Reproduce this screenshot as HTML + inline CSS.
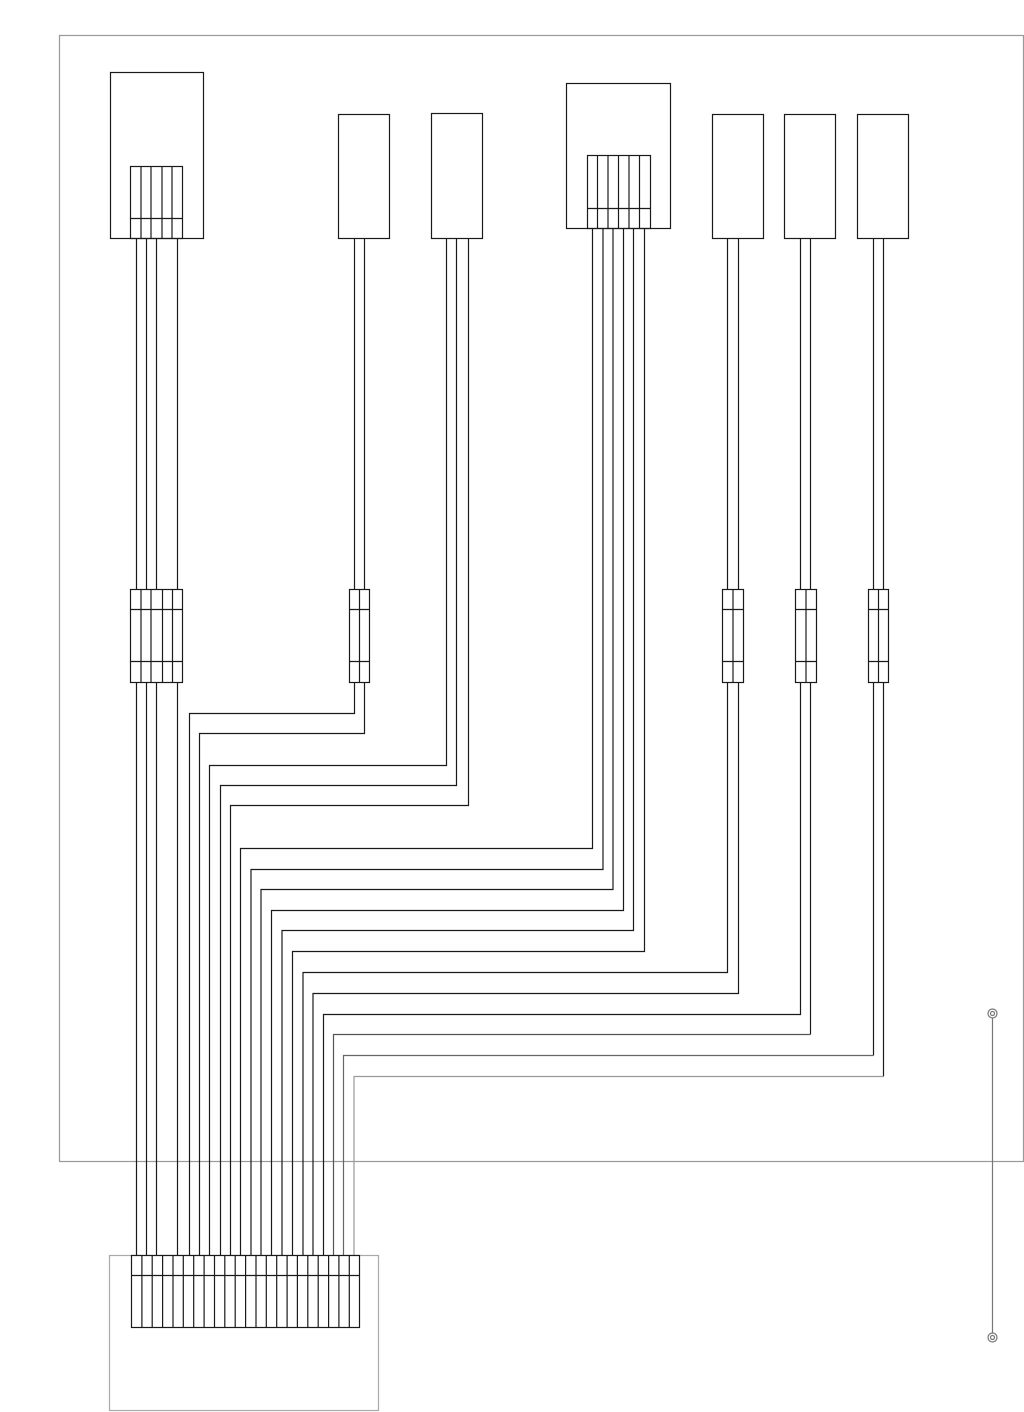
<!DOCTYPE html>
<html><head><meta charset="utf-8"><style>html,body{margin:0;padding:0;background:#fff}svg{display:block}</style></head>
<body>
<svg width="1024" height="1412" viewBox="0 0 1024 1412" xmlns="http://www.w3.org/2000/svg" fill="none" stroke-width="1.2">
<rect x="59.5" y="35.5" width="964" height="1126" stroke="#999"/>
<rect x="109.5" y="1255.5" width="269" height="155" stroke="#aaa"/>
<g stroke="#1a1a1a">
<rect x="110.5" y="72.5" width="93" height="166"/>
<rect x="130.5" y="166.5" width="52" height="72"/>
<line x1="130" y1="218.5" x2="183" y2="218.5"/>
<path d="M141 166v72M151 166v72M162 166v72M172 166v72"/>
<rect x="338.5" y="114.5" width="51" height="124"/>
<rect x="431.5" y="113.5" width="51" height="125"/>
<rect x="566.5" y="83.5" width="104" height="145"/>
<rect x="587.5" y="155.5" width="63" height="73"/>
<line x1="587" y1="208.5" x2="651" y2="208.5"/>
<path d="M597.5 155v73M608 155v73M618.5 155v73M629 155v73M639.5 155v73"/>
<rect x="712.5" y="114.5" width="51" height="124"/>
<rect x="784.5" y="114.5" width="51" height="124"/>
<rect x="857.5" y="114.5" width="51" height="124"/>
<path d="M136.5 238V1255M146.5 238V1255M156.5 238V1255M177.5 238V1255"/>
<path d="M354.5 238V713.5H189.5V1255"/>
<path d="M364.5 238V733.5H199.5V1255"/>
<path d="M446.5 238V765.5H209.5V1255"/>
<path d="M456.5 238V785.5H220.5V1255"/>
<path d="M468.5 238V805.5H230.5V1255"/>
<path d="M592.5 228V848.5H240.5V1255"/>
<path d="M603 228V869.5H251V1255"/>
<path d="M613 228V889.5H261V1255"/>
<path d="M623.5 228V910.5H271.5V1255"/>
<path d="M633.5 228V930.5H282V1255"/>
<path d="M644.5 228V951.5H292.5V1255"/>
<path d="M727.5 238V972.5H303V1255"/>
<path d="M738.5 238V993.5H313V1255"/>
<path d="M800.5 238V1014.5H323.5V1255"/>
<path d="M810.5 238V1034.5"/>
<path d="M810.5 1034.5H333.5V1255" stroke="#555"/>
<path d="M873.5 238V1055.5"/>
<path d="M873.5 1055.5H343.5V1255" stroke="#666"/>
<path d="M883.5 238V1076.5"/>
<path d="M883.5 1076.5H354V1255" stroke="#999"/>
<g fill="#fff">
<rect x="130.5" y="589.5" width="52" height="93"/>
<rect x="349.5" y="589.5" width="20" height="93"/>
<rect x="722.5" y="589.5" width="21" height="93"/>
<rect x="795.5" y="589.5" width="21" height="93"/>
<rect x="868.5" y="589.5" width="20" height="93"/>
</g>
<path d="M141 589v93M151 589v93M162.5 589v93M172.5 589v93M130 609.5h53M130 661.5h53"/>
<path d="M359.5 589v93M349 609.5h21M349 661.5h21"/>
<path d="M733 589v93M722 609.5h22M722 661.5h22"/>
<path d="M806 589v93M795 609.5h22M795 661.5h22"/>
<path d="M878.5 589v93M868 609.5h21M868 661.5h21"/>
<rect x="131.5" y="1255.5" width="228" height="72" fill="#fff"/>
<line x1="131" y1="1275.5" x2="360" y2="1275.5"/>
<path d="M141.9 1255v72M152.2 1255v72M162.6 1255v72M173 1255v72M183.3 1255v72M193.7 1255v72M204.1 1255v72M214.5 1255v72M224.8 1255v72M235.2 1255v72M245.6 1255v72M256 1255v72M266.3 1255v72M276.7 1255v72M287.1 1255v72M297.4 1255v72M307.8 1255v72M318.2 1255v72M328.6 1255v72M338.9 1255v72M349.3 1255v72"/>
</g>
<g stroke="#777">
<line x1="992.5" y1="1018" x2="992.5" y2="1333"/>
<circle cx="992.5" cy="1013.5" r="4.5" fill="#fff"/>
<circle cx="992.5" cy="1013.5" r="2"/>
<circle cx="992.5" cy="1337.5" r="4.5" fill="#fff"/>
<circle cx="992.5" cy="1337.5" r="2"/>
</g>
</svg>
</body></html>
